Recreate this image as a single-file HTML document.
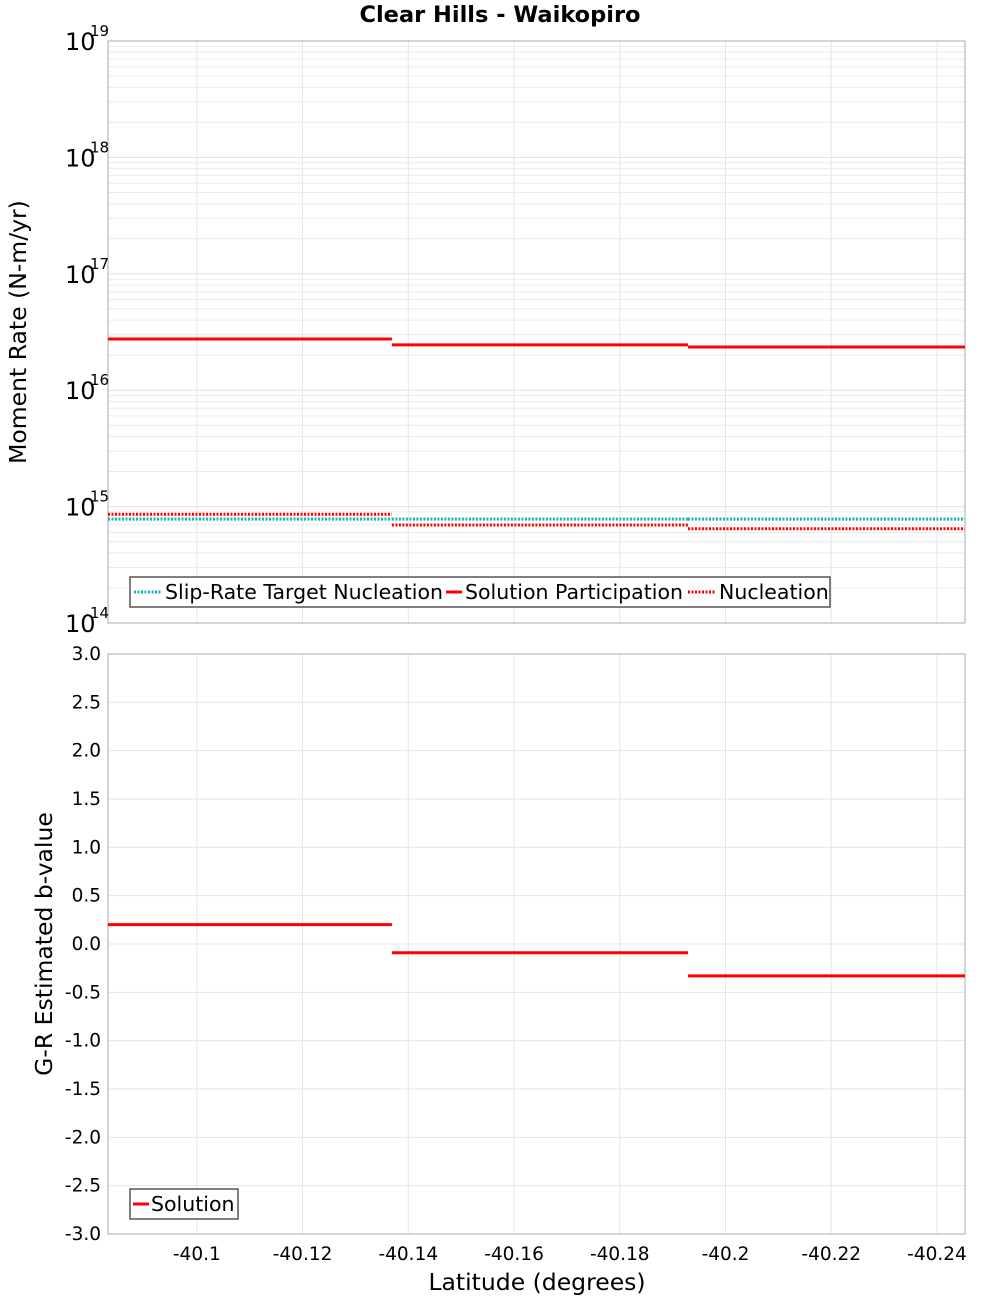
<!DOCTYPE html>
<html><head><meta charset="utf-8"><style>
html,body{margin:0;padding:0;background:#fff;}
svg{display:block;font-family:"DejaVu Sans","Liberation Sans",sans-serif;}
</style></head><body>
<svg id="chart" width="1000" height="1300" viewBox="0 0 1000 1300"></svg>
<script>
// data
const segStarts = [-40.0832, -40.1369, -40.1929];
const segEnds = [-40.1369, -40.1929, -40.2453];
const slipTarget = [7.8e14, 7.8e14, 7.8e14];
const solutionPart = [2.75e16, 2.45e16, 2.35e16];
const nucleation = [8.6e14, 6.95e14, 6.45e14];
const bValues = [0.2, -0.09, -0.33];
const xTicks = [-40.1, -40.12, -40.14, -40.16, -40.18, -40.2, -40.22, -40.24];
const xTickLabels = ["-40.1","-40.12","-40.14","-40.16","-40.18","-40.2","-40.22","-40.24"];
const logExps = [14, 15, 16, 17, 18, 19];
const bTicks = [3.0,2.5,2.0,1.5,1.0,0.5,0.0,-0.5,-1.0,-1.5,-2.0,-2.5,-3.0];

const NS = "http://www.w3.org/2000/svg";
const svg = document.getElementById('chart');
const L = 108, R = 965;
const T1 = 41, B1 = 623, T2 = 654, B2 = 1234;
const xMin = -40.0832, xMax = -40.2453;
function xs(v){ return L + (v - xMin) / (xMax - xMin) * (R - L); }
function ys1(v){ return B1 - (Math.log10(v) - 14) / 5 * (B1 - T1); }
function ys2(v){ return B2 - (v + 3) / 6 * (B2 - T2); }
function el(tag, attrs, text){
  const e = document.createElementNS(NS, tag);
  for (const k in attrs) e.setAttribute(k, attrs[k]);
  if (text !== undefined) e.textContent = text;
  svg.appendChild(e);
  return e;
}
let e;
e = el('text',{x:500,y:22,'text-anchor':'middle','font-size':22.5,'font-weight':'bold'},'Clear Hills - Waikopiro');



for (let d = 14; d < 19; d++) {
  for (let m = 1; m <= 9; m++) {
    const y = ys1(m * Math.pow(10, d));
    e = el('line',{x1:L,x2:R,y1:y,y2:y,stroke:m===1?'#e0e0e0':'#ececec','stroke-width':1});
    
    
  }
}
xTicks.forEach(v => {
  e = el('line',{x1:xs(v),x2:xs(v),y1:T1,y2:B1,stroke:'#e6e6e6'});
  
  
  e = el('line',{x1:xs(v),x2:xs(v),y1:T2,y2:B2,stroke:'#e6e6e6'});
  
  
});
bTicks.forEach(v => {
  e = el('line',{x1:L,x2:R,y1:ys2(v),y2:ys2(v),stroke:'#e6e6e6'});
  
  
});
e = el('rect',{x:L,y:T1,width:R-L,height:B1-T1,fill:'none',stroke:'#aaa'});


e = el('rect',{x:L,y:T2,width:R-L,height:B2-T2,fill:'none',stroke:'#aaa'});



logExps.forEach(d => {
  const y = ys1(Math.pow(10, d));
  e = el('text',{x:65,y:y+9,'font-size':24},'10');
  
  
  e = el('text',{x:90,y:y-5,'font-size':15},String(d));
  
  
});
bTicks.forEach(v => {
  e = el('text',{x:101,y:ys2(v)+6,'text-anchor':'end','font-size':18.5},v.toFixed(1));
  
  
});
xTicks.forEach((v,i) => {
  e = el('text',{x:xs(v),y:1260,'text-anchor':'middle','font-size':18.5},xTickLabels[i]);
  
  
});
e = el('text',{x:0,y:0,'font-size':23.5,'text-anchor':'middle',transform:'translate(26,332) rotate(-90)'},'Moment Rate (N-m/yr)');


e = el('text',{x:0,y:0,'font-size':23.5,'text-anchor':'middle',transform:'translate(52,944) rotate(-90)'},'G-R Estimated b-value');


e = el('text',{x:537,y:1290,'font-size':23.5,'text-anchor':'middle'},'Latitude (degrees)');



function seg(arr, yfn, color, dash, name){
  arr.forEach((v,i) => {
    const a = {x1:xs(segStarts[i]),x2:xs(segEnds[i]),y1:yfn(v),y2:yfn(v),stroke:color,'stroke-width':3};
    if (dash) a['stroke-dasharray'] = '2,1.5';
    const s = el('line',a);
    
    
  });
}
seg(slipTarget, ys1, '#16b5b5', true, 'slip-rate-target-segment');
seg(nucleation, ys1, '#ff0000', true, 'nucleation-segment');
seg(solutionPart, ys1, '#ff0000', false, 'solution-participation-segment');
seg(bValues, ys2, '#ff0000', false, 'b-value-segment');

e = el('rect',{x:130,y:577,width:700,height:30,fill:'#fff',stroke:'#555','stroke-width':1.5});


const leg = [[134,28,'#16b5b5',true,'Slip-Rate Target Nucleation'],[446,16,'#ff0000',false,'Solution Participation'],[688,28,'#ff0000',true,'Nucleation']];
leg.forEach(l => {
  const a = {x1:l[0],x2:l[0]+l[1],y1:592,y2:592,stroke:l[2],'stroke-width':3};
  if (l[3]) a['stroke-dasharray']='2,1.5';
  e = el('line',a);
  
  
  e = el('text',{x:l[0]+l[1]+3,y:599,'font-size':20.5},l[4]);
  
  
});
e = el('rect',{x:130,y:1189,width:108,height:30,fill:'#fff',stroke:'#555','stroke-width':1.5});


e = el('line',{x1:133,x2:149,y1:1204,y2:1204,stroke:'#ff0000','stroke-width':3});


e = el('text',{x:151,y:1211,'font-size':20.5},'Solution');


</script>
</body></html>
